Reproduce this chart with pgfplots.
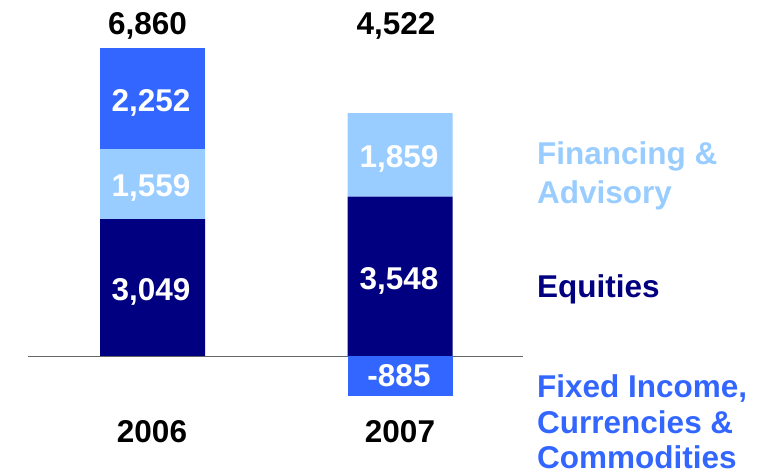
\documentclass[border=0pt]{standalone}
\usepackage{fontspec}
\setmainfont{Liberation Sans}
\usepackage{pgfplots}
\pgfplotsset{compat=1.18}
\definecolor{navy}{HTML}{000080}
\definecolor{lightb}{HTML}{99CCFF}
\definecolor{brightb}{HTML}{3366FF}
\pgfplotsset{base/.style={scale only axis, width=770pt, height=475pt,
  xmin=0, xmax=770, ymin=-2650, ymax=7928, hide axis, clip=false,
  anchor=south west, at={(0,0)}}}
\begin{document}
\begin{tikzpicture}
\begin{axis}[base, ybar stacked, bar width=105]
\draw[gray!80!black, line width=1pt] (axis cs:28,0) -- (axis cs:523,0);
\addplot[fill=navy, draw=none] coordinates {(152.5,3049) (400,3548)};
\addplot[fill=lightb, draw=none] coordinates {(152.5,1559) (400,1859)};
\addplot[fill=brightb, draw=none] coordinates {(152.5,2252)};
\end{axis}
\begin{axis}[base, ybar, bar width=105]
\addplot[fill=brightb, draw=none, bar shift=0pt] coordinates {(400,-885)};
\begin{scope}[every node/.style={font=\fontsize{31.5}{37.5}\selectfont\bfseries, inner sep=0pt}]
\node[anchor=base] at (axis cs:147.5,7149) {6,860};
\node[anchor=base] at (axis cs:396,7149) {4,522};
\node[anchor=base, white] at (axis cs:151,5456) {2,252};
\node[anchor=base, white] at (axis cs:151,3563) {1,559};
\node[anchor=base, white] at (axis cs:151,1225) {3,049};
\node[anchor=base, white] at (axis cs:399,4187) {1,859};
\node[anchor=base, white] at (axis cs:399,1492) {3,548};
\node[anchor=base, white] at (axis cs:399,-690) {-885};
\node[anchor=base] at (axis cs:152,-1937) {2006};
\node[anchor=base] at (axis cs:400,-1937) {2007};
\node[anchor=base west, lightb] at (axis cs:537,4254) {Financing \&};
\node[anchor=base west, lightb] at (axis cs:537,3407) {Advisory};
\node[anchor=base west, navy] at (axis cs:537,1314) {Equities};
\node[anchor=base west, brightb] at (axis cs:537,-913) {Fixed Income,};
\node[anchor=base west, brightb] at (axis cs:537,-1715) {Currencies \&};
\node[anchor=base west, brightb] at (axis cs:537,-2500) {Commodities};
\end{scope}
\end{axis}
\pgfresetboundingbox
\path[use as bounding box] (0,0) rectangle (770pt,475pt);
\end{tikzpicture}
\end{document}
